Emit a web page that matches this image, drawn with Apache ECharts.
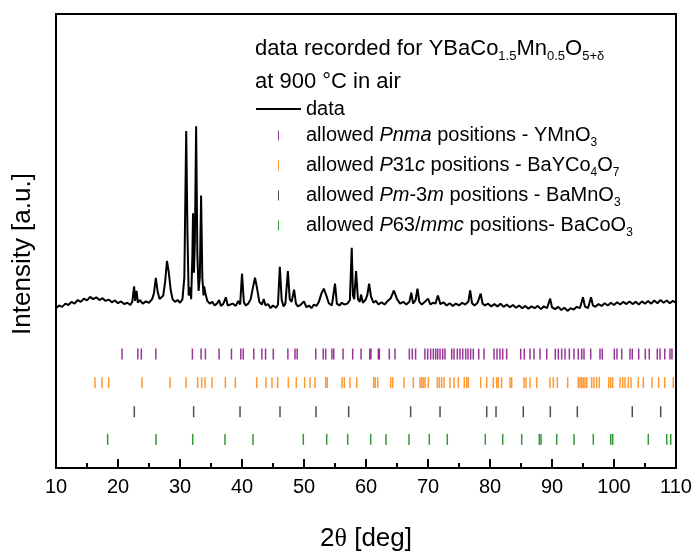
<!DOCTYPE html>
<html>
<head>
<meta charset="utf-8">
<script src="https://cdn.jsdelivr.net/npm/echarts@6/dist/echarts.min.js"></script>
<style>
  html, body { margin: 0; padding: 0; background: #fff; }
  #chart { width: 697px; height: 557px; }
</style>
</head>
<body>
<div id="chart"></div>
<script>
// XRD pattern, 2theta [deg] vs intensity (arbitrary units)
const pattern = [
  [10.0,352],[10.5,358],[11.0,355],[11.5,362],[12.0,359],[12.5,366],[13.0,362],[13.5,370],
  [14.0,366],[14.5,373],[15.0,369],[15.5,377],[16.0,372],[16.5,376],[17.0,370],[17.5,374],
  [18.0,368],[18.5,371],[19.0,365],[19.5,369],[20.0,363],[20.5,367],[21.0,361],[21.5,364],
  [22.0,359],[22.3,366],[22.6,400],[22.75,368],[23.0,390],[23.2,364],[23.5,370],[24.0,362],
  [24.5,367],[25.0,364],[25.5,372],[25.8,385],[26.1,419],[26.4,388],[26.7,372],[27.0,370],
  [27.3,380],[27.6,410],[27.9,456],[28.2,430],[28.5,392],[28.8,372],[29.2,366],[29.6,370],
  [30.0,364],[30.4,372],[30.7,420],[31.0,742],[31.2,520],[31.4,380],[31.6,398],[31.8,372],
  [32.0,470],[32.1,561],[32.25,430],[32.4,500],[32.6,753],[32.8,470],[33.0,390],[33.2,420],
  [33.4,600],[33.6,420],[33.8,380],[33.9,400],[34.1,385],[34.4,368],[34.8,362],[35.2,366],
  [35.6,358],[36.0,363],[36.3,370],[36.6,357],[37.0,362],[37.4,376],[37.7,358],[38.0,356],
  [38.5,362],[39.0,357],[39.4,368],[39.7,360],[40.0,428],[40.3,365],[40.6,358],[41.0,362],
  [41.4,372],[41.8,400],[42.1,419],[42.4,398],[42.8,366],[43.2,360],[43.5,372],[43.8,358],
  [44.2,361],[44.6,352],[45.0,358],[45.5,353],[45.8,360],[46.1,443],[46.4,370],[46.7,356],
  [47.0,362],[47.4,434],[47.7,372],[48.0,366],[48.4,393],[48.7,362],[49.0,356],[49.5,360],
  [50.0,367],[50.4,354],[50.8,358],[51.2,352],[51.6,360],[52.0,357],[52.4,366],[52.8,384],
  [53.2,395],[53.6,380],[54.0,363],[54.5,358],[55.0,406],[55.3,362],[55.7,358],[56.1,364],
  [56.5,360],[57.0,362],[57.4,370],[57.7,485],[57.9,380],[58.1,372],[58.4,434],[58.7,372],
  [59.0,366],[59.2,382],[59.5,364],[59.9,370],[60.2,380],[60.5,406],[60.8,378],[61.2,364],
  [61.6,368],[62.0,360],[62.5,365],[63.0,360],[63.5,368],[64.0,374],[64.5,391],[65.0,372],
  [65.5,362],[66.0,366],[66.5,360],[67.0,366],[67.3,386],[67.6,362],[68.0,370],[68.3,395],
  [68.6,366],[69.0,360],[69.5,366],[70.0,373],[70.4,360],[70.8,364],[71.2,362],[71.6,380],
  [72.0,361],[72.5,365],[73.0,358],[73.5,363],[74.0,357],[74.5,362],[75.0,358],[75.5,364],
  [76.0,360],[76.5,366],[76.8,391],[77.1,363],[77.5,358],[78.0,364],[78.5,384],[78.8,362],
  [79.2,358],[79.7,362],[80.2,356],[80.7,361],[81.2,356],[81.7,362],[82.2,355],[82.7,360],
  [83.2,354],[83.7,359],[84.2,353],[84.7,358],[85.2,352],[85.7,357],[86.2,351],[86.7,356],
  [87.2,352],[87.7,357],[88.2,350],[88.7,356],[89.2,352],[89.7,373],[90.0,354],[90.5,350],
  [91.0,355],[91.5,348],[92.0,353],[92.5,346],[93.0,352],[93.5,349],[94.0,355],[94.5,352],
  [95.0,376],[95.3,356],[95.8,352],[96.3,376],[96.6,358],[97.0,355],[97.5,361],[98.0,357],
  [98.5,363],[99.0,358],[99.5,364],[100.0,359],[100.5,365],[101.0,360],[101.5,366],[102.0,361],
  [102.5,367],[103.0,361],[103.5,366],[104.0,360],[104.5,367],[105.0,362],[105.5,368],[106.0,362],
  [106.5,369],[107.0,363],[107.5,370],[108.0,364],[108.5,369],[109.0,363],[109.5,368],[110.0,364]
];

// allowed reflection positions (2theta) for each phase
const pnmaPos = [
  20.65,23.2,23.76,26.1,32.0,33.4,34.1,36.3,38.3,39.8,40.2,41.9,43.2,43.8,45.05,47.4,48.55,48.9,
  51.9,53.1,53.5,54.5,54.8,56.3,57.85,59.2,60.6,60.8,62.0,62.15,63.76,64.68,66.99,67.47,68.0,
  69.5,69.95,70.43,70.86,71.24,71.56,71.94,72.37,72.74,73.82,74.19,74.73,75.16,75.6,76.08,76.45,
  76.88,77.31,78.18,79.03,80.65,81.13,81.6,82.05,82.69,84.95,85.53,86.45,87.1,88.06,89.15,90.53,
  91.02,91.56,92.1,92.8,93.55,94.24,94.79,95.16,96.24,97.74,98.11,100.05,100.48,101.24,102.58,
  102.95,103.98,105.05,105.69,106.98,107.42,108.18,109.03,109.35
];
const p31cPos = [
  16.29,17.42,18.5,23.87,28.39,30.97,32.85,33.5,34.03,35.16,37.31,38.92,42.37,43.87,44.84,45.76,
  47.47,48.76,50.11,50.97,51.77,53.5,53.76,56.13,56.5,57.42,58.5,61.24,61.5,61.89,63.98,64.3,
  66.13,67.63,68.71,68.98,69.25,69.52,70.05,71.5,71.82,72.2,72.58,73.55,74.19,74.89,75.86,76.24,
  76.5,78.5,79.47,80.53,81.08,81.34,81.88,83.23,83.5,85.48,85.81,86.45,87.53,89.68,90.21,90.86,
  92.53,94.24,94.52,94.79,95.05,95.32,95.6,96.4,96.77,97.2,97.63,99.15,99.47,99.79,100.97,101.4,
  101.77,102.31,102.74,103.92,104.73,106.13,107.2,108.18,109.56
];
const pm3mPos = [22.63,32.2,39.68,46.13,51.94,57.2,67.2,71.94,79.47,80.97,85.37,89.73,94.08,102.95,107.53];
const p63Pos = [
  18.33,26.13,32.05,37.26,41.77,49.89,53.66,57.05,60.76,63.23,66.94,70.21,73.11,79.24,82.05,
  85.11,87.95,88.23,90.76,93.55,96.66,99.47,99.79,105.53,108.5,109.15
];

// vertical level of each row of markers (same units as intensity)
const rowLevel = { pnma: 251, p31c: 188, pm3m: 124, p63: 63 };

const xTicks = [10, 110, 10]; // min, max, step

const legendNames = {
  'data': '{r|data}',
  'Pnma': '{r|allowed }{i|Pnma}{r| positions - YMnO}{s|3}',
  'P31c': '{r|allowed }{i|P}{r|31}{i|c}{r| positions - BaYCo}{s|4}{r|O}{s|7}',
  'Pm-3m': '{r|allowed }{i|Pm}{r|-3}{i|m}{r| positions - BaMnO}{s|3}',
  'P63/mmc': '{r|allowed }{i|P}{r|63/}{i|mmc}{r| positions- BaCoO}{s|3}'
};

const FONT = 'Liberation Sans, Arial, sans-serif';
const tickIcon = 'path://M0,0h1v10h-1z';

function markers(name, pos, level, color) {
  return {
    name: name,
    type: 'scatter',
    data: pos.map(p => [p, level]),
    symbol: 'rect',
    symbolSize: [1.5, 11],
    itemStyle: { color: color },
    silent: true,
    z: 3
  };
}

const chart = echarts.init(document.getElementById('chart'), null, { renderer: 'canvas' });

const option = {
  animation: false,
  backgroundColor: '#fff',
  title: {
    left: 250,
    top: 27,
    text: '{r|data recorded for YBaCo}{s|1.5}{r|Mn}{s|0.5}{r|O}{s|5+δ}\n{r|at 900 °C in air}',
    textStyle: {
      fontWeight: 'normal',
      rich: {
        r: { fontFamily: FONT, fontSize: 22, fontWeight: 'normal', color: '#000', lineHeight: 33 },
        s: { fontFamily: FONT, fontSize: 13, fontWeight: 'normal', color: '#000', verticalAlign: 'bottom', padding: [0, 0, 2, 0] }
      }
    }
  },
  legend: {
    left: 250,
    top: 94,
    orient: 'vertical',
    itemWidth: 45,
    itemHeight: 10,
    itemGap: 6.5,
    data: [
      { name: 'data', itemStyle: { opacity: 0 } },
      { name: 'Pnma', icon: tickIcon },
      { name: 'P31c', icon: tickIcon },
      { name: 'Pm-3m', icon: tickIcon },
      { name: 'P63/mmc', icon: tickIcon }
    ],
    formatter: name => legendNames[name],
    textStyle: {
      rich: {
        r: { fontFamily: FONT, fontSize: 20, color: '#000', lineHeight: 27 },
        i: { fontFamily: FONT, fontSize: 20, fontStyle: 'italic', color: '#000', lineHeight: 27 },
        s: { fontFamily: FONT, fontSize: 12, color: '#000', verticalAlign: 'bottom' }
      }
    }
  },
  grid: {
    left: 56, right: 21, top: 14, bottom: 85,
    show: true, borderColor: '#000', borderWidth: 2
  },
  xAxis: {
    type: 'value',
    min: xTicks[0],
    max: xTicks[1],
    interval: xTicks[2],
    name: '{a|2}{t|θ}{a| [deg]}',
    nameLocation: 'middle',
    nameGap: 58,
    nameTextStyle: {
      rich: {
        a: { fontFamily: FONT, fontSize: 26, color: '#000' },
        t: { fontFamily: 'Liberation Serif, serif', fontSize: 26, color: '#000' }
      }
    },
    axisLine: { lineStyle: { color: '#000', width: 2 } },
    axisTick: { inside: true, length: 9, lineStyle: { color: '#000', width: 2 } },
    minorTick: { show: true, splitNumber: 2, length: 5, lineStyle: { color: '#000', width: 2 } },
    axisLabel: { fontFamily: FONT, fontSize: 20, color: '#000', margin: 9 },
    splitLine: { show: false }
  },
  yAxis: {
    type: 'value',
    min: 0,
    max: 1000,
    name: 'Intensity [a.u.]',
    nameLocation: 'middle',
    nameGap: 20,
    nameTextStyle: { fontFamily: FONT, fontSize: 26, color: '#000', padding: [0, 26, 0, 0] },
    axisLine: { lineStyle: { color: '#000', width: 2 } },
    axisTick: { show: false },
    axisLabel: { show: false },
    splitLine: { show: false }
  },
  series: [
    {
      name: 'data',
      type: 'line',
      data: pattern,
      showSymbol: false,
      symbol: 'none',
      lineStyle: { color: '#000', width: 2 },
      itemStyle: { color: '#000' },
      silent: true,
      z: 2
    },
    markers('Pnma', pnmaPos, rowLevel.pnma, '#800080'),
    markers('P31c', p31cPos, rowLevel.p31c, '#FF7F00'),
    markers('Pm-3m', pm3mPos, rowLevel.pm3m, '#222222'),
    markers('P63/mmc', p63Pos, rowLevel.p63, '#008000')
  ]
};

chart.setOption(option);
window.addEventListener('resize', () => chart.resize());
</script>
</body>
</html>
